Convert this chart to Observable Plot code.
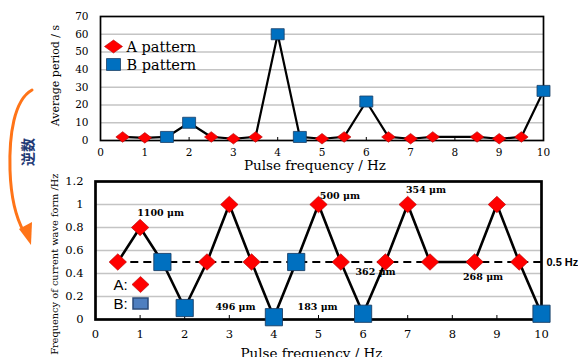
<!DOCTYPE html>
<html><head><meta charset="utf-8">
<script src="https://cdn.jsdelivr.net/npm/d3@7"></script>
<script src="https://cdn.jsdelivr.net/npm/@observablehq/plot@0.6"></script>
<style>
body{margin:0;background:#fff;}
#wrap{position:relative;width:578px;height:357px;overflow:hidden;background:#fff;}
#wrap svg{position:absolute;left:0;}
</style></head><body><div id="wrap"></div>
<script>
// ---- data ----
const freqA = [0.5, 1, 2.5, 3, 3.5, 5, 5.5, 6.5, 7, 7.5, 8.5, 9, 9.5];
const periodA = [2, 1.5, 2, 1, 2, 1, 2, 2, 1, 2, 2, 1, 2];
const freqB = [1.5, 2, 4, 4.5, 6, 10];
const periodB = [2, 10, 60, 2, 22, 28];
const waveA = [0.5, 0.8, 0.5, 1, 0.5, 1, 0.5, 0.5, 1, 0.5, 0.5, 1, 0.5];
const waveB = [0.5, 0.1, 0.02, 0.5, 0.05, 0.05];
const xTicks = [0, 1, 2, 3, 4, 5, 6, 7, 8, 9, 10];
const periodTicks = [0, 10, 20, 30, 40, 50, 60, 70];
const waveTicks = [0, 0.2, 0.4, 0.6, 0.8, 1, 1.2];
const refLevel = 0.5;
const refLabel = "0.5 Hz";
const annX = [1.46, 3.14, 4.98, 5.48, 7.41, 6.28, 8.69];
const annY = [0.93, 0.106, 0.11, 1.07, 1.13, 0.41, 0.37];
const annText = ["1100 μm", "496 μm", "183 μm", "500 μm", "354 μm", "362 μm", "268 μm"];
const xTitle = "Pulse frequency / Hz";
const yTitleTop = "Average period / s";
const yTitleBottom = "Frequency of current wave form /Hz";
const legendTop = ["A pattern", "B pattern"];
const legendBottom = ["A:", "B:"];
const sideNote = "逆数";

// ---- symbols ----
function diamond(ky){return {draw(ctx,size){const r=Math.sqrt(size/Math.PI),h=r*ky;ctx.moveTo(0,-h);ctx.lineTo(r,0);ctx.lineTo(0,h);ctx.lineTo(-r,0);ctx.closePath();}};}
function box(ky){return {draw(ctx,size){const r=Math.sqrt(size/Math.PI),h=r*ky;ctx.rect(-r,-h,2*r,2*h);}};}

const RED="#ff0000", REDS="#b00000", BLUE="#0070c0", BLUES="#1b3f66";
const serif="'DejaVu Serif', 'Liberation Serif', serif";
const sans="'Liberation Sans', Arial, sans-serif";
const plain = d => String(d);

const A1 = freqA.map((x,i)=>({x, y: periodA[i]}));
const B1 = freqB.map((x,i)=>({x, y: periodB[i]}));
const L1 = [...A1, ...B1].sort((a,b)=>a.x-b.x);
const A2 = freqA.map((x,i)=>({x, y: waveA[i]}));
const B2 = freqB.map((x,i)=>({x, y: waveB[i]}));
const L2 = [...A2, ...B2].sort((a,b)=>a.x-b.x);
const ann = annText.map((t,i)=>({x: annX[i], y: annY[i], t}));

const wrap = document.getElementById("wrap");

const top1 = Plot.plot({
  width: 578, height: 175,
  marginLeft: 100, marginRight: 35, marginTop: 16, marginBottom: 35,
  style: {fontFamily: serif, fontSize: "10.5px", background: "transparent", overflow: "visible", color: "#000"},
  x: {domain: [0, 10]},
  y: {domain: [0, 70]},
  marks: [
    Plot.gridY(periodTicks.slice(1, -1), {stroke: "#c4c4c4", strokeOpacity: 1, strokeWidth: 1.5}),
    Plot.axisX(xTicks, {tickSize: -3, tickPadding: 11, label: null, fontSize: 10.5, tickFormat: plain}),
    Plot.axisY(periodTicks, {tickSize: 0, tickPadding: 12, label: null, fontSize: 10.5, tickFormat: plain}),
    Plot.frame({stroke: "#000", strokeWidth: 1.7}),
    Plot.line(L1, {x: "x", y: "y", stroke: "#000", strokeWidth: 2.2}),
    Plot.dot(A1, {x: "x", y: "y", symbol: diamond(0.78), r: 6.8, fill: RED, stroke: REDS, strokeWidth: 0.6}),
    Plot.dot(B1, {x: "x", y: "y", symbol: box(0.85), r: 6.5, fill: BLUE, stroke: BLUES, strokeWidth: 0.8}),
    Plot.dot([0], {frameAnchor: "top-left", dx: 13, dy: 30, symbol: diamond(0.72), r: 9, fill: RED, stroke: REDS, strokeWidth: 0.6}),
    Plot.dot([0], {frameAnchor: "top-left", dx: 13, dy: 48, symbol: box(0.85), r: 7, fill: BLUE, stroke: BLUES, strokeWidth: 0.8}),
    Plot.text([legendTop[0]], {frameAnchor: "top-left", dx: 26, dy: 31, text: d => d, textAnchor: "start", lineAnchor: "middle", fontSize: 14.5}),
    Plot.text([legendTop[1]], {frameAnchor: "top-left", dx: 26, dy: 49, text: d => d, textAnchor: "start", lineAnchor: "middle", fontSize: 14.5}),
    Plot.text([yTitleTop], {frameAnchor: "left", dx: -45, dy: -3, rotate: -90, textAnchor: "middle", lineAnchor: "middle", text: d => d, fontSize: 11}),
    Plot.text([xTitle], {frameAnchor: "bottom", dx: -7, dy: 25, textAnchor: "middle", lineAnchor: "middle", text: d => d, fontSize: 13.5})
  ]
});
top1.style.top = "0px";
wrap.appendChild(top1);

const bot = Plot.plot({
  width: 578, height: 187,
  marginLeft: 95, marginRight: 37, marginTop: 11, marginBottom: 38,
  style: {fontFamily: serif, fontSize: "11.5px", background: "transparent", overflow: "visible", color: "#000"},
  x: {domain: [0, 10]},
  y: {domain: [0, 1.2]},
  marks: [
    Plot.gridY(waveTicks.slice(1, -1), {stroke: "#c4c4c4", strokeOpacity: 1, strokeWidth: 1.5}),
    Plot.axisX(xTicks, {tickSize: -4, tickPadding: 14, label: null, fontSize: 11.5, tickFormat: plain}),
    Plot.axisY(waveTicks, {tickSize: 0, tickPadding: 12, label: null, fontSize: 11.5, tickFormat: plain}),
    Plot.frame({stroke: "#000", strokeWidth: 2.7}),
    Plot.ruleY([refLevel], {x1: freqA[0], x2: xTicks[xTicks.length - 1], stroke: "#000", strokeWidth: 2, strokeDasharray: "8,5"}),
    Plot.text([refLevel], {y: d => d, frameAnchor: "right", dx: 5, textAnchor: "start", lineAnchor: "middle", text: () => refLabel, fontFamily: sans, fontWeight: "bold", fontSize: 11}),
    Plot.line(L2, {x: "x", y: "y", stroke: "#000", strokeWidth: 2.6}),
    Plot.dot(A2, {x: "x", y: "y", symbol: diamond(0.95), r: 8.7, fill: RED, stroke: REDS, strokeWidth: 0.6}),
    Plot.dot(B2, {x: "x", y: "y", symbol: box(1), r: 8.6, fill: BLUE, stroke: BLUES, strokeWidth: 0.9}),
    Plot.text(ann, {x: "x", y: "y", text: "t", fontWeight: "bold", fontSize: 9.5}),
    Plot.text([legendBottom[0]], {frameAnchor: "top-left", dx: 18, dy: 104, text: d => d, textAnchor: "start", lineAnchor: "middle", fontFamily: sans, fontSize: 15}),
    Plot.text([legendBottom[1]], {frameAnchor: "top-left", dx: 18, dy: 123, text: d => d, textAnchor: "start", lineAnchor: "middle", fontFamily: sans, fontSize: 15}),
    Plot.dot([0], {frameAnchor: "top-left", dx: 45, dy: 103, symbol: diamond(0.95), r: 8.5, fill: RED, stroke: REDS, strokeWidth: 0.6}),
    Plot.dot([0], {frameAnchor: "top-left", dx: 45, dy: 122, symbol: box(0.72), r: 7.5, fill: "#4f7fc0", stroke: "#2a4a78", strokeWidth: 1.5}),
    Plot.text([yTitleBottom], {frameAnchor: "top-left", dx: -41, dy: -8, rotate: -90, textAnchor: "end", lineAnchor: "middle", text: d => d, fontSize: 9.8}),
    Plot.text([xTitle], {frameAnchor: "bottom", dx: -7, dy: 34, textAnchor: "middle", lineAnchor: "middle", text: d => d, fontSize: 13.5})
  ]
});
bot.style.top = "170px";
wrap.appendChild(bot);

// ---- side annotation: orange arrow + 逆数 ----
const ov = d3.select(wrap).append("svg")
  .attr("width", 578).attr("height", 357)
  .style("top", "0px").style("pointer-events", "none");
ov.append("path")
  .attr("d", "M32,90 C14,100 9,135 10,170 C11,200 16,218 24,232")
  .attr("fill", "none").attr("stroke", "#ff7418").attr("stroke-width", 3).attr("stroke-linecap", "round");
ov.append("path")
  .attr("d", "M19,229 L32,222 L31,245 Z")
  .attr("fill", "#ff7418");
ov.append("text")
  .attr("transform", "translate(27,152) rotate(-90)")
  .attr("text-anchor", "middle").attr("dominant-baseline", "central")
  .attr("font-family", "'Noto Sans CJK JP', 'Noto Sans CJK SC', sans-serif")
  .attr("font-weight", "bold").attr("font-size", 14).attr("fill", "#1f3a75")
  .text(sideNote);
</script></body></html>
